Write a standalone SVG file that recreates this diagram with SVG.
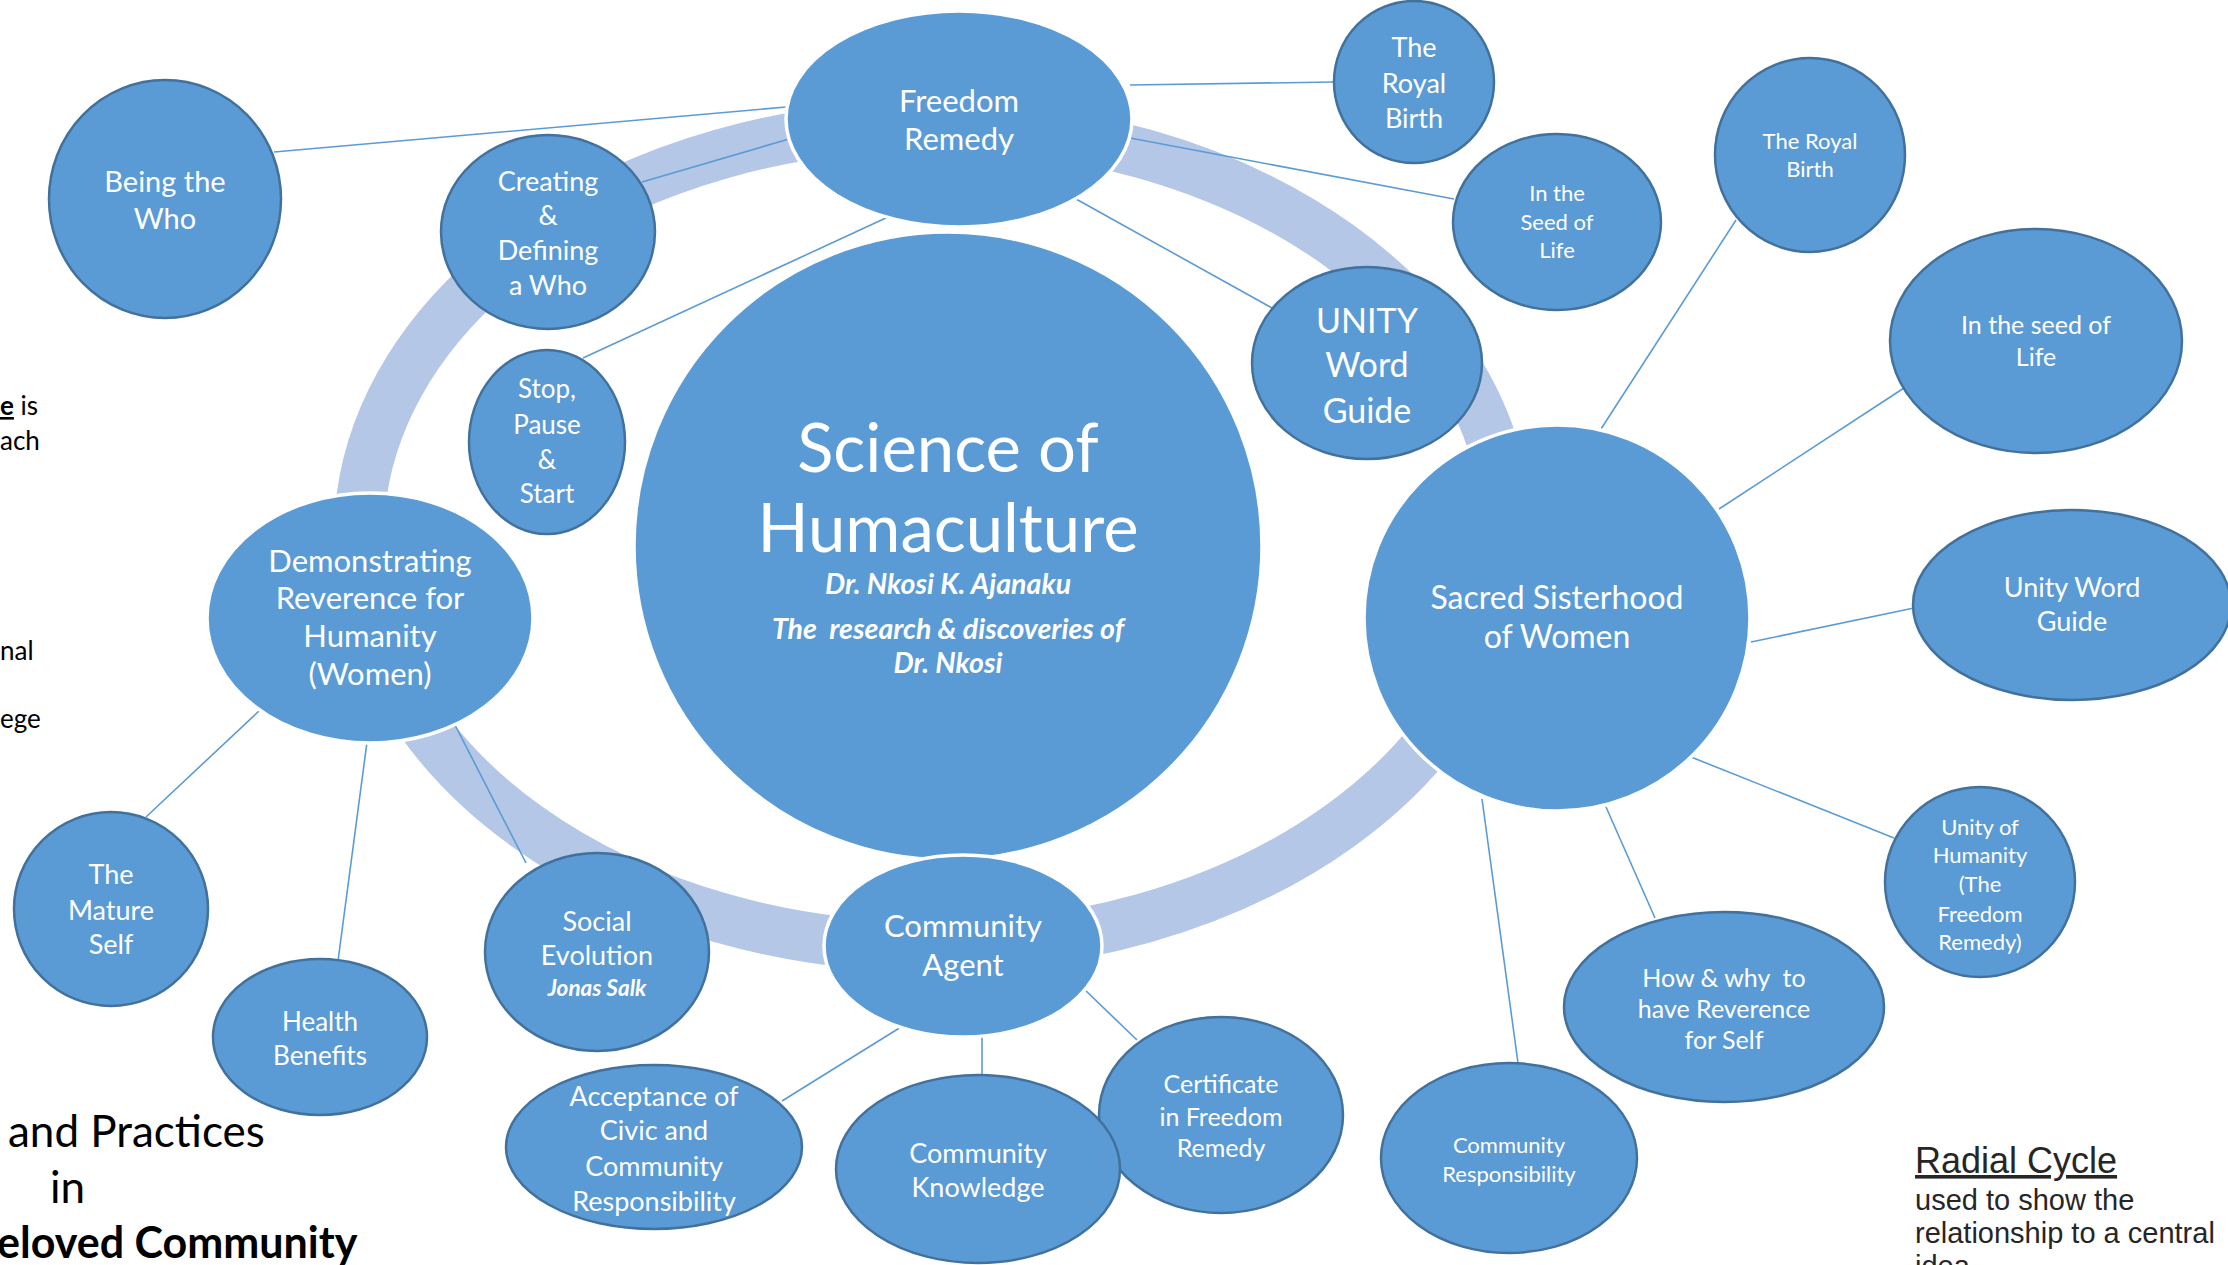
<svg xmlns="http://www.w3.org/2000/svg" width="2228" height="1265" viewBox="0 0 2228 1265">
<style>
.n{fill:#5B9BD5;stroke:#41719C;stroke-width:2.5}
.w{fill:#5B9BD5;stroke:#FFFFFF;stroke-width:3.5}
.t{fill:#FFFFFF;font-family:Lato,"Open Sans",sans-serif;text-anchor:middle}
.c line{stroke:#5B9BD5;stroke-width:1.6}
.k{fill:#000000;font-family:Lato,"Open Sans",sans-serif}
.r{fill:#262626;font-family:"Liberation Sans",Arial,sans-serif}
</style>
<rect width="2228" height="1265" fill="#FFFFFF"/>
<ellipse id="ring" cx="933" cy="536" rx="574" ry="411" fill="none" stroke="#B4C7E7" stroke-width="50"/>
<g id="connectors" class="c">
<line x1="274" y1="152" x2="786" y2="107"/>
<line x1="642" y1="182" x2="789" y2="139"/>
<line x1="583" y1="358" x2="888" y2="217"/>
<line x1="1130" y1="85" x2="1334" y2="82"/>
<line x1="1130" y1="138" x2="1454" y2="199"/>
<line x1="1076" y1="199" x2="1272" y2="308"/>
<line x1="1601" y1="429" x2="1736" y2="220"/>
<line x1="1719" y1="509" x2="1904" y2="388"/>
<line x1="1751" y1="642" x2="1914" y2="608"/>
<line x1="1691" y1="757" x2="1894" y2="838"/>
<line x1="1606" y1="807" x2="1655" y2="918"/>
<line x1="1482" y1="799" x2="1518" y2="1063"/>
<line x1="1084" y1="989" x2="1137" y2="1040"/>
<line x1="982" y1="1037" x2="982" y2="1076"/>
<line x1="901" y1="1027" x2="782" y2="1101"/>
<line x1="455" y1="725" x2="526" y2="863"/>
<line x1="259" y1="711" x2="146" y2="817"/>
<line x1="367" y1="742" x2="338" y2="961"/>
</g>
<g id="science">
<ellipse class="w" cx="948" cy="546" rx="314" ry="314"/>
<text class="t" x="948" y="472" font-size="67">Science of</text>
<text class="t" x="948" y="552" font-size="67">Humaculture</text>
<text class="t" x="948" y="594" font-size="28.5" font-weight="bold" font-style="italic">Dr. Nkosi K. Ajanaku</text>
<text class="t" x="948" y="639" font-size="28.5" font-weight="bold" font-style="italic">The&#160; research &amp; discoveries of</text>
<text class="t" x="948" y="673" font-size="28.5" font-weight="bold" font-style="italic">Dr. Nkosi</text>
</g>
<g id="being">
<ellipse class="n" cx="165" cy="199" rx="116" ry="119"/>
<text class="t" x="165" y="192" font-size="29">Being the</text>
<text class="t" x="165" y="229" font-size="29">Who</text>
</g>
<g id="freedom">
<ellipse class="w" cx="959" cy="119" rx="173" ry="108"/>
<text class="t" x="959" y="112" font-size="31">Freedom</text>
<text class="t" x="959" y="150" font-size="31">Remedy</text>
</g>
<g id="creating">
<ellipse class="n" cx="548" cy="232" rx="107" ry="97"/>
<text class="t" x="548" y="191" font-size="27">Creating</text>
<text class="t" x="548" y="225" font-size="27">&amp;</text>
<text class="t" x="548" y="260" font-size="27">Defining</text>
<text class="t" x="548" y="295" font-size="27">a Who</text>
</g>
<g id="stop">
<ellipse class="n" cx="547" cy="442" rx="78" ry="92"/>
<text class="t" x="547" y="398" font-size="26">Stop,</text>
<text class="t" x="547" y="434" font-size="26">Pause</text>
<text class="t" x="547" y="469" font-size="26">&amp;</text>
<text class="t" x="547" y="503" font-size="26">Start</text>
</g>
<g id="unity">
<ellipse class="n" cx="1367" cy="363" rx="115" ry="96"/>
<text class="t" x="1367" y="333" font-size="34">UNITY</text>
<text class="t" x="1367" y="377" font-size="34">Word</text>
<text class="t" x="1367" y="423" font-size="34">Guide</text>
</g>
<g id="royal1">
<ellipse class="n" cx="1414" cy="82" rx="80" ry="81"/>
<text class="t" x="1414" y="57" font-size="27">The</text>
<text class="t" x="1414" y="93" font-size="27">Royal</text>
<text class="t" x="1414" y="128" font-size="27">Birth</text>
</g>
<g id="seed1">
<ellipse class="n" cx="1557" cy="222" rx="104" ry="88"/>
<text class="t" x="1557" y="201" font-size="22">In the</text>
<text class="t" x="1557" y="230" font-size="22">Seed of</text>
<text class="t" x="1557" y="258" font-size="22">Life</text>
</g>
<g id="royal2">
<ellipse class="n" cx="1810" cy="155" rx="95" ry="97"/>
<text class="t" x="1810" y="149" font-size="22">The Royal</text>
<text class="t" x="1810" y="177" font-size="22">Birth</text>
</g>
<g id="seed2">
<ellipse class="n" cx="2036" cy="341" rx="146" ry="112"/>
<text class="t" x="2036" y="334" font-size="25">In the seed of</text>
<text class="t" x="2036" y="366" font-size="25">Life</text>
</g>
<g id="sacred">
<ellipse class="w" cx="1557" cy="618" rx="193" ry="193"/>
<text class="t" x="1557" y="609" font-size="32">Sacred Sisterhood</text>
<text class="t" x="1557" y="648" font-size="32">of Women</text>
</g>
<g id="unityword">
<ellipse class="n" cx="2072" cy="605" rx="159" ry="95"/>
<text class="t" x="2072" y="597" font-size="27">Unity Word</text>
<text class="t" x="2072" y="631" font-size="27">Guide</text>
</g>
<g id="humanity">
<ellipse class="n" cx="1980" cy="882" rx="95" ry="95"/>
<text class="t" x="1980" y="835" font-size="22">Unity of</text>
<text class="t" x="1980" y="863" font-size="22">Humanity</text>
<text class="t" x="1980" y="892" font-size="22">(The</text>
<text class="t" x="1980" y="922" font-size="22">Freedom</text>
<text class="t" x="1980" y="950" font-size="22">Remedy)</text>
</g>
<g id="howwhy">
<ellipse class="n" cx="1724" cy="1007" rx="160" ry="95"/>
<text class="t" x="1724" y="987" font-size="25">How &amp; why&#160; to</text>
<text class="t" x="1724" y="1018" font-size="25">have Reverence</text>
<text class="t" x="1724" y="1049" font-size="25">for Self</text>
</g>
<g id="commresp">
<ellipse class="n" cx="1509" cy="1158" rx="128" ry="95"/>
<text class="t" x="1509" y="1153" font-size="22">Community</text>
<text class="t" x="1509" y="1182" font-size="22">Responsibility</text>
</g>
<g id="certificate">
<ellipse class="n" cx="1221" cy="1115" rx="122" ry="98"/>
<text class="t" x="1221" y="1093" font-size="25">Certificate</text>
<text class="t" x="1221" y="1126" font-size="25">in Freedom</text>
<text class="t" x="1221" y="1157" font-size="25">Remedy</text>
</g>
<g id="knowledge">
<ellipse class="n" cx="978" cy="1169" rx="142" ry="94"/>
<text class="t" x="978" y="1163" font-size="27">Community</text>
<text class="t" x="978" y="1197" font-size="27">Knowledge</text>
</g>
<g id="agent">
<ellipse class="w" cx="963" cy="946" rx="139" ry="91"/>
<text class="t" x="963" y="937" font-size="31">Community</text>
<text class="t" x="963" y="976" font-size="31">Agent</text>
</g>
<g id="acceptance">
<ellipse class="n" cx="654" cy="1147" rx="148" ry="82"/>
<text class="t" x="654" y="1106" font-size="27">Acceptance of</text>
<text class="t" x="654" y="1140" font-size="27">Civic and</text>
<text class="t" x="654" y="1176" font-size="27">Community</text>
<text class="t" x="654" y="1211" font-size="27">Responsibility</text>
</g>
<g id="social">
<ellipse class="n" cx="597" cy="952" rx="112" ry="99"/>
<text class="t" x="597" y="931" font-size="27">Social</text>
<text class="t" x="597" y="965" font-size="27">Evolution</text>
<text class="t" x="597" y="996" font-size="22.5" font-weight="bold" font-style="italic">Jonas Salk</text>
</g>
<g id="demonstrating">
<ellipse class="w" cx="370" cy="618" rx="163" ry="125"/>
<text class="t" x="370" y="572" font-size="31">Demonstrating</text>
<text class="t" x="370" y="609" font-size="31">Reverence for</text>
<text class="t" x="370" y="647" font-size="31">Humanity</text>
<text class="t" x="370" y="685" font-size="31">(Women)</text>
</g>
<g id="mature">
<ellipse class="n" cx="111" cy="909" rx="97" ry="97"/>
<text class="t" x="111" y="884" font-size="27">The</text>
<text class="t" x="111" y="920" font-size="27">Mature</text>
<text class="t" x="111" y="954" font-size="27">Self</text>
</g>
<g id="health">
<ellipse class="n" cx="320" cy="1037" rx="107" ry="78"/>
<text class="t" x="320" y="1031" font-size="26">Health</text>
<text class="t" x="320" y="1065" font-size="26">Benefits</text>
</g>
<g id="lefttext">
<text class="k" x="0" y="415" font-size="26"><tspan font-weight="bold" text-decoration="underline">e</tspan> is</text>
<text class="k" x="0" y="450" font-size="26">ach</text>
<text class="k" x="0" y="660" font-size="26">nal</text>
<text class="k" x="0" y="728" font-size="26">ege</text>
<text class="k" x="8" y="1147" font-size="44">and Practices</text>
<text class="k" x="50" y="1203" font-size="44">in</text>
<text class="k" x="-3" y="1258" font-size="43" font-weight="bold">eloved Community</text>
</g>
<g id="caption">
<text class="r" x="1915" y="1173" font-size="36" text-decoration="underline">Radial Cycle</text>
<text class="r" x="1915" y="1210" font-size="29">used to show the</text>
<text class="r" x="1915" y="1243" font-size="29">relationship to a central</text>
<text class="r" x="1915" y="1276" font-size="29">idea</text>
</g>
</svg>
